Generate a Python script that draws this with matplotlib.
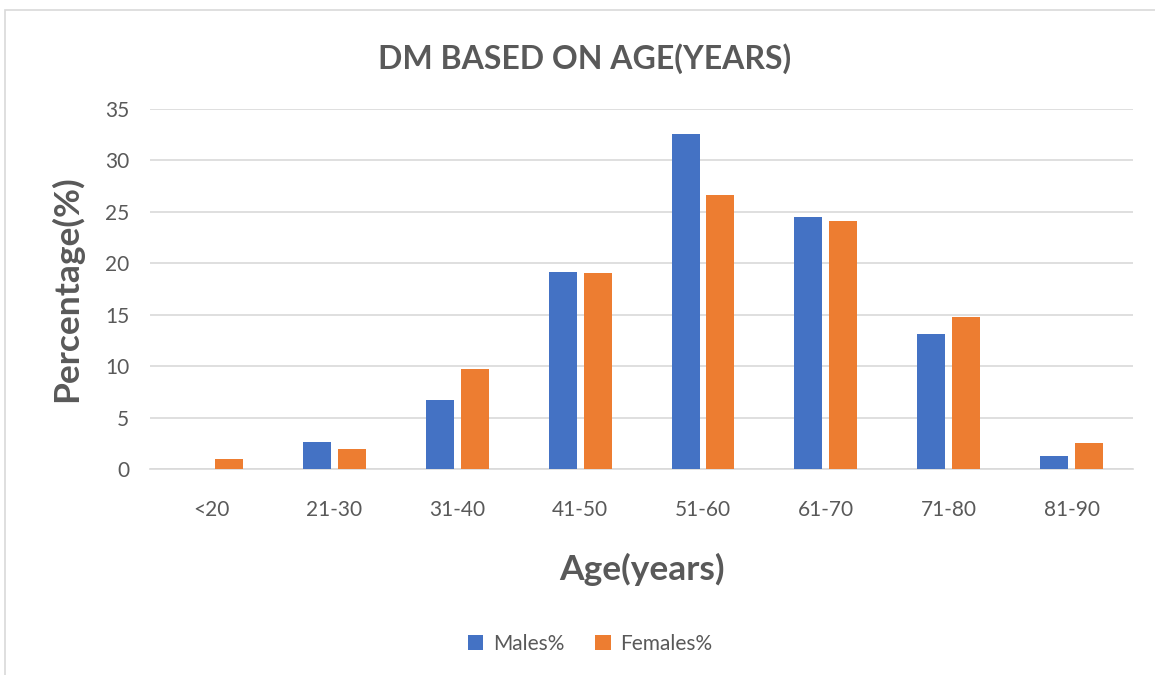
import matplotlib.pyplot as plt
import numpy as np
from matplotlib.patches import Rectangle

plt.rcParams['font.family'] = ['Lato', 'DejaVu Sans']

# Age groups and share of DM cases in each
age_groups = ['<20', '21-30', '31-40', '41-50', '51-60', '61-70', '71-80', '81-90']
males_pct = [0, 2.6, 6.7, 19.1, 32.5, 24.5, 13.1, 1.3]
females_pct = [1.0, 2.0, 9.7, 19.0, 26.6, 24.1, 14.8, 2.5]

blue = '#4472c4'
orange = '#ed7d31'
grey_text = '#595959'

fig = plt.figure(figsize=(11.55, 6.75), dpi=100)
ax = fig.add_axes([0.13, 0.305, 0.851, 0.534])

# light frame around the whole chart
fig.patches.append(Rectangle((5 / 1155, -0.01), 1.02, 1 - 10 / 675 + 0.01,
                             transform=fig.transFigure, fill=False,
                             edgecolor='#d9d9d9', linewidth=1.2))

x = np.arange(len(age_groups))
width = 0.228
offset = 0.142
ax.bar(x - offset, males_pct, width, color=blue, label='Males%', zorder=3)
ax.bar(x + offset, females_pct, width, color=orange, label='Females%', zorder=3)

ax.set_xlim(-0.5, len(age_groups) - 0.5)
ax.set_ylim(0, 35)
ax.set_yticks(range(0, 36, 5))
ax.set_xticks(x)
ax.set_xticklabels(age_groups)
ax.yaxis.grid(True, color='#d9d9d9', linewidth=1.2, zorder=0)
for side in ['top', 'right', 'left']:
    ax.spines[side].set_visible(False)
ax.spines['bottom'].set_color('#d9d9d9')
ax.spines['bottom'].set_linewidth(1.2)
ax.tick_params(axis='both', length=0, labelsize=15, labelcolor=grey_text)
ax.tick_params(axis='x', pad=22)
ax.tick_params(axis='y', pad=15)

fig.text(0.506, 0.913, 'DM BASED ON AGE(YEARS)', ha='center', va='center',
         fontsize=23, fontweight='bold', color=grey_text)
ax.set_xlabel('Age(years)', fontsize=25.5, fontweight='bold', color=grey_text, labelpad=24)
ax.set_ylabel('Percentage(%)', fontsize=25.5, fontweight='bold', color=grey_text, labelpad=16)

ax.legend(loc='center', bbox_to_anchor=(0.511, 0.046), bbox_transform=fig.transFigure,
          ncol=2, frameon=False, fontsize=15, labelcolor=grey_text,
          handlelength=0.75, handleheight=0.75, handletextpad=0.45, columnspacing=1.5)

fig.savefig('out.png', dpi=100)
